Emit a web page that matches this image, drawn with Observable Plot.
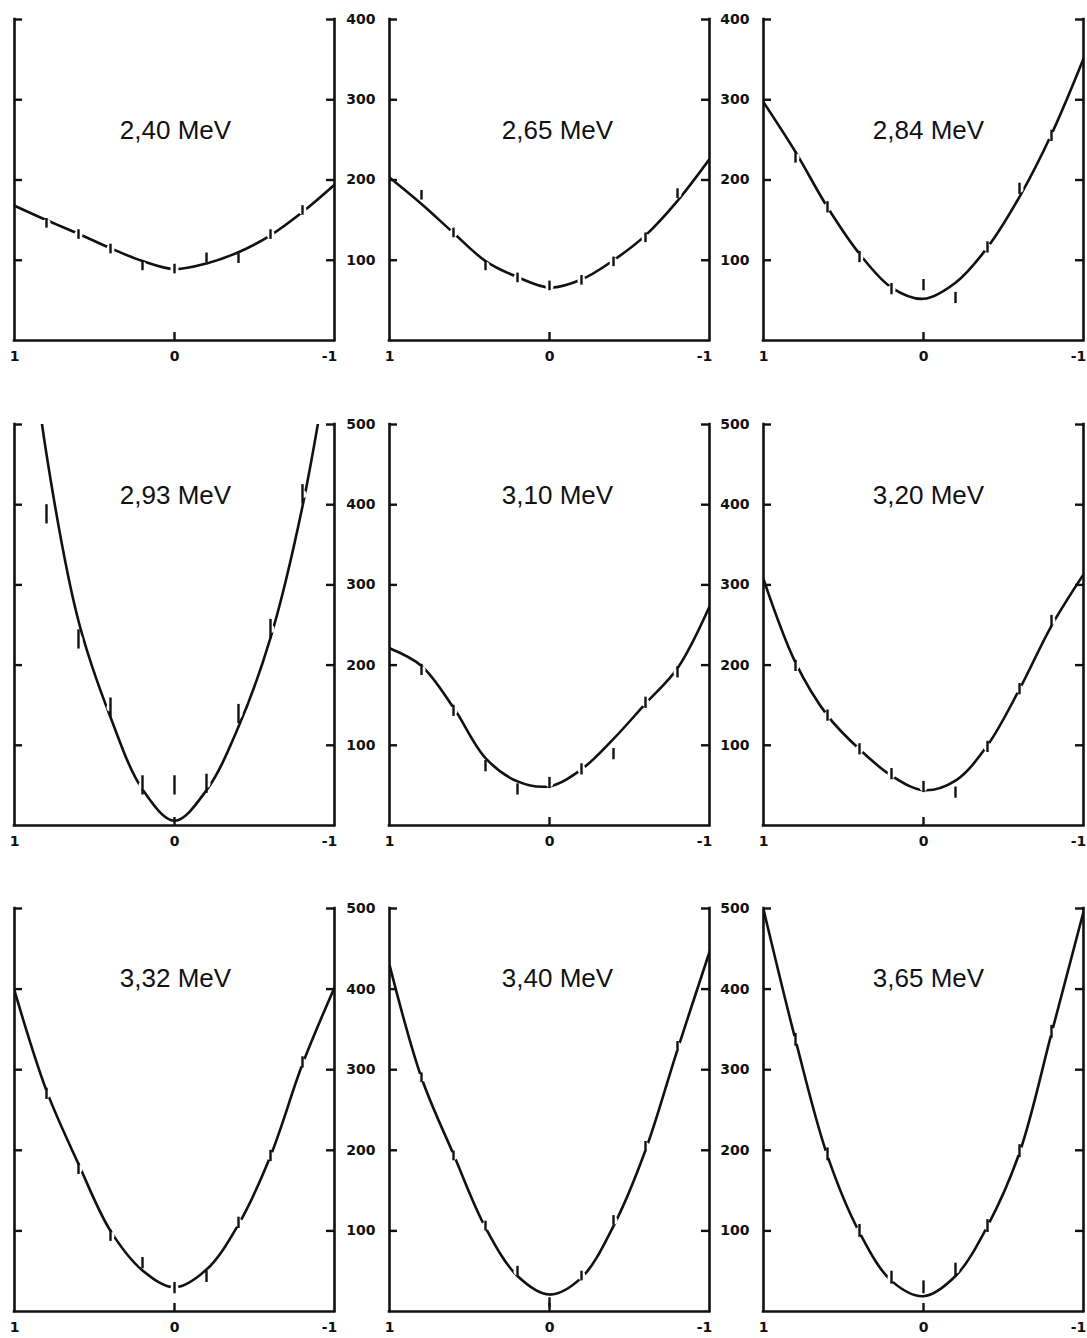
<!DOCTYPE html>
<html>
<head>
<meta charset="utf-8">
<script src="https://cdn.jsdelivr.net/npm/d3@7"></script>
<script src="https://cdn.jsdelivr.net/npm/@observablehq/plot@0.6"></script>
<style>
  html, body { margin: 0; padding: 0; background: #fff; overflow: hidden; }
  #chart { position: relative; width: 1087px; height: 1338px; overflow: hidden; background: #fff; }
  .panel { position: absolute; }
</style>
</head>
<body>
<div id="chart"></div>
<script>
// ---- data ----
const energies = ["2,40 MeV", "2,65 MeV", "2,84 MeV", "2,93 MeV", "3,10 MeV", "3,20 MeV", "3,32 MeV", "3,40 MeV", "3,65 MeV"];
const yMax = [400, 400, 400, 500, 500, 500, 500, 500, 500];
const yTickValues = [100, 200, 300, 400, 500];
const xTickValues = [1, 0, -1];
const xTickLabels = ["1", "0", "-1"];

// measured points (cos θ positions) and values
const cosPoints = [0.8, 0.6, 0.4, 0.2, 0, -0.2, -0.4, -0.6, -0.8];
const measured = [
  [146, 132, 114, 93, 89, 103, 102, 132, 162],
  [181, 134, 93, 78, 68, 75, 98, 128, 183],
  [228, 166, 104, 64, 69, 53, 116, 189, 255],
  [388, 232, 147, 50, 50, 52, 139, 245, 413],
  [194, 143, 74, 45, 53, 70, 89, 153, 191],
  [199, 137, 95, 64, 48, 41, 98, 170, 255],
  [270, 177, 94, 60, 29, 43, 110, 193, 309],
  [290, 193, 106, 50, 11, 44, 113, 205, 329],
  [337, 195, 100, 42, 30, 52, 106, 199, 347]
];
const errors = [6, 6, 7, 12, 7, 7, 7, 6, 8];

// fitted curve read at cos θ steps
const curveCos = [1, 0.8, 0.6, 0.4, 0.2, 0, -0.2, -0.4, -0.6, -0.8, -1];
const fitted = [
  [168, 150, 133, 115, 99, 89, 96, 110, 131, 160, 194],
  [203, 170, 134, 99, 79, 66, 76, 100, 131, 174, 226],
  [297, 235, 166, 108, 66, 52, 72, 116, 179, 257, 351],
  [780, 463, 255, 135, 45, 6, 44, 123, 234, 398, 625],
  [221, 199, 147, 84, 55, 49, 70, 108, 152, 196, 273],
  [307, 203, 137, 95, 62, 44, 56, 100, 170, 249, 313],
  [398, 274, 183, 100, 51, 30, 52, 108, 193, 307, 402],
  [430, 290, 195, 104, 44, 21, 42, 106, 200, 325, 446],
  [499, 337, 193, 98, 38, 19, 44, 106, 197, 345, 496]
];

// ---- layout ----
const colLeft = [14, 389, 763];
const rowTop = [19, 424, 908];
const rowFrameH = [321, 401, 403];
const titleDy = [101, 61, 60];
const titleDx = [1, 8, 5];
const frameW = 320;
const M = {top: 10, right: 12, bottom: 40, left: 60};
const ink = "#111";

const chart = document.getElementById("chart");

energies.forEach((label, i) => {
  const row = Math.floor(i / 3), col = i % 3;
  const max = yMax[i];
  const ticks = yTickValues.filter(v => v <= max);
  const pts = cosPoints.map((c, j) => ({x: c, y: measured[i][j], e: errors[i]}));
  const fit = curveCos.map((c, j) => ({x: c, y: fitted[i][j]}));
  const h = rowFrameH[row];

  const marks = [
    Plot.line(fit, {x: "x", y: "y", curve: "catmull-rom", stroke: ink, strokeWidth: 2.6, clip: true}),
    Plot.dot(pts, {x: "x", y: "y", r: 4, fill: "white"}),
    Plot.ruleX(pts, {x: "x", y1: d => d.y - d.e, y2: d => d.y + d.e, stroke: ink, strokeWidth: 2.4}),
    Plot.ruleX([1, -1], {stroke: ink, strokeWidth: 2.6, strokeLinecap: "square"}),
    Plot.ruleY([0], {stroke: ink, strokeWidth: 2.6, strokeLinecap: "square"}),
    Plot.tickY(ticks, {y: d => d, insetRight: frameW - 8, stroke: ink, strokeWidth: 2.4}),
    Plot.tickY(ticks, {y: d => d, insetLeft: frameW - 8, stroke: ink, strokeWidth: 2.4}),
    Plot.tickX([0], {x: d => d, insetTop: h - 8, stroke: ink, strokeWidth: 2.4}),
    Plot.text(xTickValues.slice(0, 2), {x: d => d, text: (d, k) => xTickLabels[k], frameAnchor: "bottom", dy: 20, fontSize: 14, fontWeight: "bold", fill: ink}),
    Plot.text(xTickValues.slice(2), {x: d => d, text: () => xTickLabels[2], frameAnchor: "bottom", dy: 20, dx: -5, fontSize: 14, fontWeight: "bold", fill: ink}),
    Plot.text([label], {text: d => d, frameAnchor: "top", lineAnchor: "top", dy: titleDy[row], dx: titleDx[col], fontSize: 26, fontFamily: "'Liberation Sans', Arial, sans-serif", fill: ink})
  ];
  // the leftmost column's value labels fall outside the cropped picture
  if (col > 0) {
    marks.push(Plot.axisY(ticks, {anchor: "left", tickSize: 0, tickPadding: 14, fontSize: 14, fontWeight: "bold", label: null}));
  }

  const plot = Plot.plot({
    width: frameW + M.left + M.right,
    height: h + M.top + M.bottom,
    marginTop: M.top, marginRight: M.right, marginBottom: M.bottom, marginLeft: M.left,
    x: {domain: [1, -1], axis: null},
    y: {domain: [0, max], axis: null},
    style: {background: "transparent", fontFamily: "'DejaVu Sans', sans-serif", color: ink, overflow: "visible"},
    marks
  });
  plot.classList.add("panel");
  plot.style.left = (colLeft[col] - M.left) + "px";
  plot.style.top = (rowTop[row] - M.top) + "px";
  chart.appendChild(plot);
});
</script>
</body>
</html>
